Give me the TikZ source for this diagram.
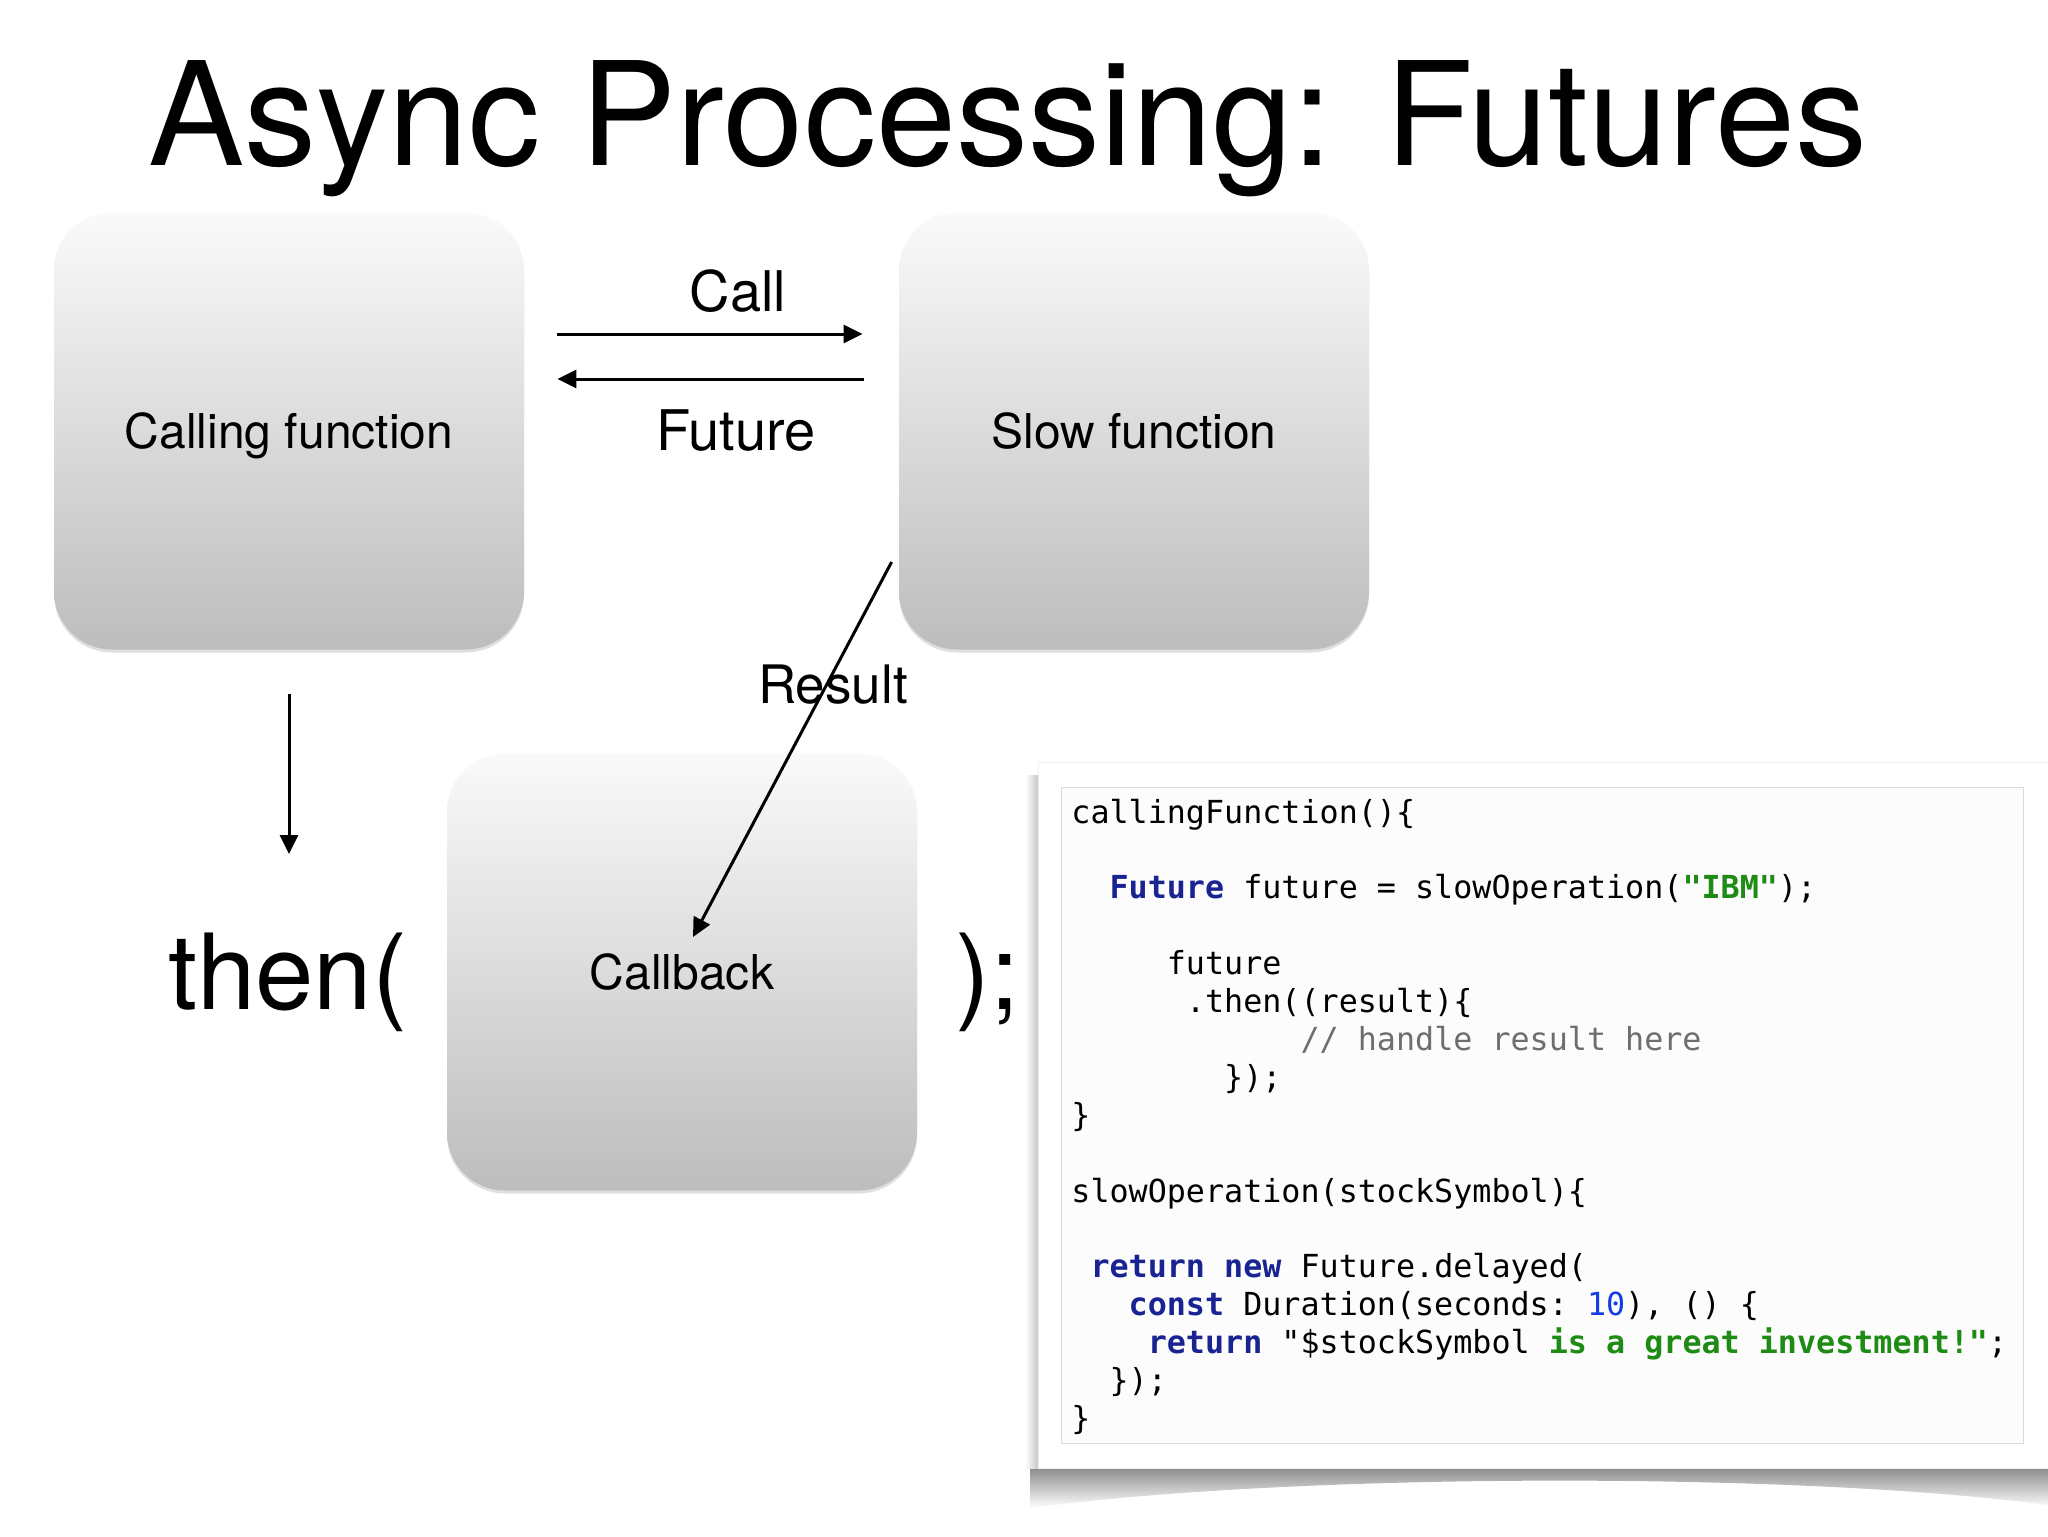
\documentclass[tikz,border=0pt]{standalone}
\usepackage{fontspec}
\setmainfont{TeX Gyre Heros}
\setmonofont{DejaVu Sans Mono}
\usetikzlibrary{arrows.meta,shadows}
\definecolor{kwc}{RGB}{25,35,145}
\definecolor{strc}{RGB}{30,140,20}
\definecolor{numc}{RGB}{20,60,230}
\definecolor{cmc}{RGB}{110,110,110}
\newcommand\ind[1]{\hspace*{#1\fontcharwd\font`0}}
\newcommand\kw[1]{\textcolor{kwc}{\bfseries #1}}
\newcommand\strg[1]{\textcolor{strc}{\bfseries #1}}
\newcommand\numb[1]{\textcolor{numc}{#1}}
\newcommand\cmt[1]{\textcolor{cmc}{#1}}
\tikzset{
  box/.style={rounded corners=29pt, minimum width=235pt, minimum height=218.5pt,
    top color=black!2, bottom color=black!26, draw=none, inner sep=0pt, text depth=0pt,
    drop shadow={shadow xshift=0pt, shadow yshift=-1.5pt, opacity=0.25},
    font=\fontsize{24}{28}\selectfont},
  arr/.style={line width=1.5pt, -{Triangle[length=9.5pt,width=9pt]}},
  code/.style={anchor=base west, inner sep=0pt, font=\ttfamily\fontsize{15.86}{19}\selectfont\frenchspacing},
  lbl/.style={inner sep=0pt, anchor=base},
}
\begin{document}
\begin{tikzpicture}[x=0.5pt,y=-0.5pt]
\useasboundingbox (0,0) rectangle (2048,1536);
\fill[white] (0,0) rectangle (2048,1536);

% title
\node[inner sep=0pt, anchor=base west, font=\fontsize{72}{80}\selectfont] (title) at (148,165) {Async Processing: Futures};

% boxes
\node[box] (cf) at (289,431) {Calling function};
\node[box] (sf) at (1134,431) {Slow function};
\node[box] (cb) at (682,972) {Callback};

% labels
\node[lbl, font=\fontsize{28}{32}\selectfont] (call) at (738,311) {Call};
\node[lbl, font=\fontsize{28}{32}\selectfont] (fut) at (736,450) {Future};
\node[inner sep=0pt, anchor=base west, font=\fontsize{52.5}{60}\selectfont] (then) at (168,1009) {then(};
\node[inner sep=0pt, anchor=base west, font=\fontsize{52.5}{60}\selectfont] (close) at (955,1009) {);};

% connectors
\draw[arr, shorten <=16.5pt, shorten >=18pt] ([yshift=48.5pt]cf.east) -- ([yshift=48.5pt]sf.west);
\draw[arr, shorten <=17.5pt, shorten >=16.5pt] ([yshift=26pt]sf.west) -- ([yshift=26pt]cf.east);
\draw[arr, shorten <=22pt, shorten >=39pt] (cf.south) -- (cf.south |- then.north);
\draw[arr] ([xshift=-3.5pt,yshift=-65.5pt]sf.west) -- ([xshift=5.5pt,yshift=17.5pt]cb.center);
\node[lbl, font=\fontsize{26.5}{30}\selectfont] (res) at (833,703) {Result};

% code card
\shade[top color=black!45, bottom color=white] (1030,1468) -- (2048,1468) -- (2048,1505)
  .. controls (1800,1472) and (1300,1472) .. (1030,1508) -- cycle;
\shade[left color=white, right color=black!22] (1025,775) rectangle (1038,1468);
\filldraw[fill=white, draw=black!6] (1038,762) rectangle (2060,1468);
\filldraw[fill=black!1, draw=black!14, line width=0.5pt] (1061,787) rectangle (2023,1443);

\node[code] (l1) at (1071,823) {callingFunction()\{};
\node[code] (l3) at (1071,898.8) {\ind{2}\kw{Future} future = slowOperation(\strg{"IBM"});};
\node[code] (l5) at (1071,974.6) {\ind{5}future};
\node[code] (l6) at (1071,1012.5) {\ind{6}.then((result)\{};
\node[code] (l7) at (1071,1050.4) {\ind{12}\cmt{// handle result here}};
\node[code] (l8) at (1071,1088.3) {\ind{8}\});};
\node[code] (l9) at (1071,1126.2) {\}};
\node[code] (l11) at (1071,1202) {slowOperation(stockSymbol)\{};
\node[code] (l13) at (1071,1277.8) {\ind{1}\kw{return} \kw{new} Future.delayed(};
\node[code] (l14) at (1071,1315.7) {\ind{3}\kw{const} Duration(seconds: \numb{10}), () \{};
\node[code] (l15) at (1071,1353.6) {\ind{4}\kw{return} "\$stockSymbol\strg{ is a great investment!"};};
\node[code] (l16) at (1071,1391.5) {\ind{2}\});};
\node[code] (l17) at (1071,1429.4) {\}};
\end{tikzpicture}
\end{document}
